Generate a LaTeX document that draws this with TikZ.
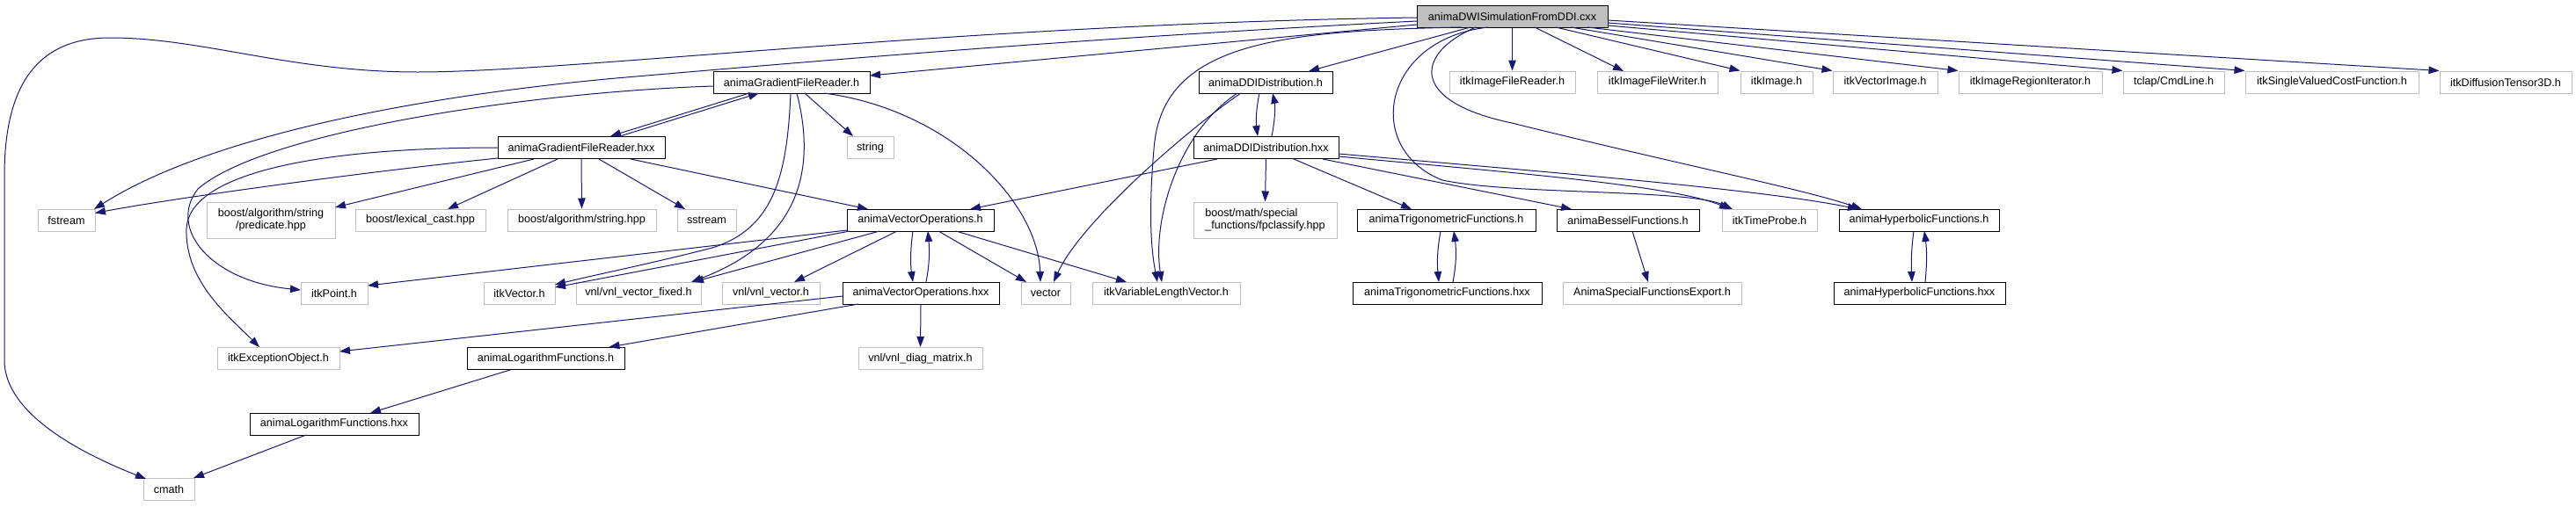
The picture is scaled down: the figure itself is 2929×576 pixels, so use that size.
\documentclass[tikz,border=0pt]{standalone}
\usepackage{fontspec}
\newfontfamily\dxfont{Liberation Sans}
\usetikzlibrary{arrows.meta,calc}
\definecolor{mblue}{HTML}{191970}
\definecolor{greyb}{HTML}{BFBFBF}
\begin{document}
\begin{tikzpicture}[x=1pt,y=-1pt,
  doc/.style={draw=black,line width=1pt,minimum height=25pt,inner sep=0pt,font=\dxfont\fontsize{12.6}{14}\selectfont},
  ext/.style={doc,draw=greyb},
  dep/.style={draw=mblue,line width=1pt,-{Triangle[length=12pt,width=8.5pt]}}]
\fill[white] (0,0) rectangle (2929,576);
\useasboundingbox (0,0) rectangle (2929,576);
% row 0
\node[doc,fill=greyb,minimum width=217pt] (cxx) at (1719.5,18.5) {animaDWISimulationFromDDI.cxx};
% row 1
\node[doc,minimum width=178pt] (gfrh) at (900,93.5) {animaGradientFileReader.h};
\node[doc,minimum width=152pt] (ddih) at (1439,93.5) {animaDDIDistribution.h};
\node[ext,minimum width=143pt] (ifr) at (1719.5,93.5) {itkImageFileReader.h};
\node[ext,minimum width=137pt] (ifw) at (1884.5,93.5) {itkImageFileWriter.h};
\node[ext,minimum width=82pt] (img) at (2020,93.5) {itkImage.h};
\node[ext,minimum width=119pt] (vimg) at (2143.5,93.5) {itkVectorImage.h};
\node[ext,minimum width=163pt] (rit) at (2308.5,93.5) {itkImageRegionIterator.h};
\node[ext,minimum width=115pt] (tclap) at (2471.5,93.5) {tclap/CmdLine.h};
\node[ext,minimum width=197pt] (svcf) at (2651.5,93.5) {itkSingleValuedCostFunction.h};
\node[ext,minimum width=150pt] (dt3) at (2849,93.5) {itkDiffusionTensor3D.h};
% row 2
\node[doc,minimum width=190pt] (gfrhxx) at (661,168) {animaGradientFileReader.hxx};
\node[ext,minimum width=53pt] (string) at (989.5,168) {string};
\node[doc,minimum width=165pt] (ddihxx) at (1439.5,168) {animaDDIDistribution.hxx};
% row 3
\node[ext,minimum width=65pt] (fstream) at (75.5,250.5) {fstream};
\node[ext,minimum width=146pt,minimum height=41pt,align=center] (pred) at (308,250.5) {boost/algorithm/string\\/predicate.hpp};
\node[ext,minimum width=148pt] (lex) at (478,250.5) {boost/lexical\_cast.hpp};
\node[ext,minimum width=169pt] (algs) at (661.5,250.5) {boost/algorithm/string.hpp};
\node[ext,minimum width=67pt] (sstream) at (803.5,250.5) {sstream};
\node[doc,minimum width=167pt] (avoh) at (1046.5,250.5) {animaVectorOperations.h};
\node[ext,minimum width=163pt,minimum height=41pt,align=left] (fpc) at (1438.5,250.5) {boost/math/special\\\_functions/fpclassify.hpp};
\node[doc,minimum width=203pt] (trig) at (1644.5,250.5) {animaTrigonometricFunctions.h};
\node[doc,minimum width=162pt] (bessel) at (1851,250.5) {animaBesselFunctions.h};
\node[ext,minimum width=108pt] (tprobe) at (2012,250.5) {itkTimeProbe.h};
\node[doc,minimum width=182pt] (hyp) at (2182,250.5) {animaHyperbolicFunctions.h};
% row 4
\node[ext,minimum width=76pt] (point) at (380,333.5) {itkPoint.h};
\node[ext,minimum width=81pt] (vec) at (590.5,333.5) {itkVector.h};
\node[ext,minimum width=142pt] (vnlfix) at (726,333.5) {vnl/vnl\_vector\_fixed.h};
\node[ext,minimum width=111pt] (vnlvec) at (876.5,333.5) {vnl/vnl\_vector.h};
\node[doc,minimum width=178pt] (avohxx) at (1047,333.5) {animaVectorOperations.hxx};
\node[ext,minimum width=56pt] (vector) at (1189,333.5) {vector};
\node[ext,minimum width=168pt] (vlv) at (1326,333.5) {itkVariableLengthVector.h};
\node[doc,minimum width=215pt] (trighxx) at (1645.5,333.5) {animaTrigonometricFunctions.hxx};
\node[ext,minimum width=203pt] (export) at (1878.5,333.5) {AnimaSpecialFunctionsExport.h};
\node[doc,minimum width=195pt] (hyphxx) at (2182.5,333.5) {animaHyperbolicFunctions.hxx};
% row 5
\node[ext,minimum width=139pt] (exc) at (316.5,408) {itkExceptionObject.h};
\node[doc,minimum width=179pt] (logh) at (620.5,408) {animaLogarithmFunctions.h};
\node[ext,minimum width=141pt] (diag) at (1046.5,408) {vnl/vnl\_diag\_matrix.h};
% row 6, 7
\node[doc,minimum width=192pt] (logthxx) at (380,482.5) {animaLogarithmFunctions.hxx};
\node[ext,minimum width=58pt] (cmath) at (192,557) {cmath};

% ---- edges from cxx
\draw[dep] ($(cxx.center)+(-108.5,9.5)$) -- ($(gfrh.center)+(89,-7.5)$);
\draw[dep] ($(cxx.center)+(-108.5,5.5)$) .. controls (1200,45) and (900,72) .. (700,89) .. controls (450,112) and (230,160) .. ($(fstream.center)+(31.5,-12.5)$);
\draw[dep] ($(cxx.center)+(-108.5,1.5)$) .. controls (1100,27) and (650,82) .. (475,82) .. controls (330,82) and (230,43) .. (125,43) .. controls (40,43) and (5,100) .. (5,200) -- (5,410) .. controls (5,470) and (90,515) .. ($(cmath.center)+(-26,-12)$);
\draw[dep] ($(cxx.center)+(-47.5,12.5)$) -- ($(ddih.center)+(49,-12.5)$);
\draw[dep] ($(cxx.center)+(-57.5,12.5)$) .. controls (1450,35) and (1320,50) .. (1312,170) .. controls (1305,250) and (1310,290) .. ($(vlv.center)+(-10,-12.5)$);
\draw[dep] (cxx.south) -- (ifr.north);
\draw[dep] ($(cxx.center)+(25.5,12.5)$) -- ($(ifw.center)+(-38.5,-12.5)$);
\draw[dep] ($(cxx.center)+(49.5,12.5)$) -- (img.north west);
\draw[dep] ($(cxx.center)+(66.5,12.5)$) -- (vimg.north west);
\draw[dep] ($(cxx.center)+(85.5,12.5)$) -- (rit.north west);
\draw[dep] ($(cxx.center)+(108.5,10.5)$) -- (tclap.north west);
\draw[dep] ($(cxx.center)+(108.5,7.5)$) -- (svcf.north west);
\draw[dep] ($(cxx.center)+(108.5,4.5)$) -- (dt3.north west);
\draw[dep] ($(cxx.center)+(-27.5,12.5)$) .. controls (1570,45) and (1550,170) .. (1640,205) .. controls (1720,222) and (1920,215) .. ($(tprobe.center)+(-42,-12.5)$);
\draw[dep] ($(cxx.center)+(-41.5,12.5)$) .. controls (1610,60) and (1600,115) .. (1719,140) .. controls (1900,185) and (2050,215) .. ($(hyp.center)+(-65,-12.5)$);
% ---- from gfrh
\draw[dep] ($(gfrh.center)+(-48,12.5)$) -- ($(gfrhxx.center)+(33,-13)$);
\draw[dep] ($(gfrhxx.center)+(44,-13)$) -- ($(gfrh.center)+(-37,12.5)$);
\draw[dep] ($(gfrh.center)+(15,12.5)$) -- ($(string.center)+(-19.5,-13)$);
\draw[dep] ($(gfrh.center)+(37,12.5)$) .. controls (1080,125) and (1180,230) .. ($(vector.center)+(-6,-12.5)$);
\draw[dep] ($(gfrh.center)+(-1,12.5)$) .. controls (895,200) and (880,260) .. (810,282) .. controls (740,300) and (680,312) .. ($(vec.center)+(40.5,-9.5)$);
\draw[dep] ($(gfrh.center)+(6,12.5)$) .. controls (925,180) and (920,270) .. ($(vnlfix.center)+(60,-12.5)$);
\draw[dep] ($(gfrh.center)+(-89,4.5)$) .. controls (600,105) and (300,150) .. (225,215) .. controls (190,260) and (240,320) .. ($(point.center)+(-38,-3.5)$);
% ---- from gfrhxx
\draw[dep] ($(gfrhxx.center)+(-95,0)$) .. controls (350,168) and (215,200) .. (212,260) .. controls (210,320) and (260,360) .. ($(exc.center)+(-21.5,-13)$);
\draw[dep] ($(gfrhxx.center)+(-95,12)$) .. controls (420,195) and (200,225) .. ($(fstream.center)+(32.5,-8)$);
\draw[dep] ($(gfrhxx.center)+(-54,13)$) -- ($(pred.center)+(73,-14.5)$);
\draw[dep] ($(gfrhxx.center)+(-27,13)$) -- ($(lex.center)+(31,-12.5)$);
\draw[dep] (gfrhxx.south) -- (algs.north);
\draw[dep] ($(gfrhxx.center)+(20,13)$) -- ($(sstream.center)+(-24.5,-12.5)$);
\draw[dep] ($(gfrhxx.center)+(56,13)$) -- ($(avoh.center)+(-59.5,-12.5)$);
% ---- from avoh
\draw[dep] ($(avoh.center)+(-83.5,11.5)$) -- ($(point.center)+(38,-8.5)$);
\draw[dep] ($(avoh.center)+(-80.5,12.5)$) -- ($(vec.center)+(40.5,-6.5)$);
\draw[dep] ($(avoh.center)+(-46.5,12.5)$) -- ($(vnlfix.center)+(62,-12.5)$);
\draw[dep] ($(avoh.center)+(-26.5,12.5)$) -- ($(vnlvec.center)+(26.5,-12.5)$);
\draw[dep] ($(avoh.center)+(-8.5,12.5)$) .. controls (1035,285) and (1035,300) .. ($(avohxx.center)+(-9,-12.5)$);
\draw[dep] ($(avohxx.center)+(6,-12.5)$) .. controls (1057,300) and (1057,285) .. ($(avoh.center)+(8.5,12.5)$);
\draw[dep] ($(avoh.center)+(20.5,12.5)$) -- ($(vector.center)+(-22,-12.5)$);
\draw[dep] ($(avoh.center)+(40.5,12.5)$) -- ($(vlv.center)+(-45,-12.5)$);
% ---- from avohxx
\draw[dep] ($(avohxx.center)+(-89,3.5)$) -- ($(exc.center)+(69.5,-8)$);
\draw[dep] ($(avohxx.center)+(-71,12.5)$) -- ($(logh.center)+(72,-13)$);
\draw[dep] (avohxx.south) -- (diag.north);
\draw[dep] ($(logh.center)+(-40.5,13)$) -- ($(logthxx.center)+(41,-12.5)$);
\draw[dep] ($(logthxx.center)+(-32,12.5)$) -- ($(cmath.center)+(28,-13)$);
% ---- from ddih
\draw[dep] ($(ddih.center)+(-7,12.5)$) .. controls (1428,125) and (1428,140) .. ($(ddihxx.center)+(-9.5,-13)$);
\draw[dep] ($(ddihxx.center)+(6.5,-13)$) .. controls (1450,135) and (1450,120) .. ($(ddih.center)+(8,12.5)$);
\draw[dep] ($(ddih.center)+(-28,12.5)$) .. controls (1360,140) and (1230,250) .. ($(vector.center)+(9,-12.5)$);
\draw[dep] ($(ddih.center)+(-32,12.5)$) .. controls (1340,150) and (1310,250) .. ($(vlv.center)+(-5,-12.5)$);
% ---- from ddihxx
\draw[dep] ($(ddihxx.center)+(-55.5,13)$) -- ($(avoh.center)+(56.5,-12.5)$);
\draw[dep] (ddihxx.south) -- (fpc.north);
\draw[dep] ($(ddihxx.center)+(31.5,13)$) -- ($(trig.center)+(-39.5,-12.5)$);
\draw[dep] ($(ddihxx.center)+(64.5,13)$) -- ($(bessel.center)+(-64,-12.5)$);
\draw[dep] ($(ddihxx.center)+(82.5,10)$) .. controls (1700,195) and (1900,210) .. ($(tprobe.center)+(-45,-12.5)$);
\draw[dep] ($(ddihxx.center)+(82.5,7)$) .. controls (1750,195) and (2000,215) .. ($(hyp.center)+(-69,-12.5)$);
% ---- trig, bessel, hyp
\draw[dep] ($(trig.center)+(-6.5,12.5)$) .. controls (1634,285) and (1634,300) .. ($(trighxx.center)+(-9.5,-12.5)$);
\draw[dep] ($(trighxx.center)+(6.5,-12.5)$) .. controls (1656,300) and (1656,285) .. ($(trig.center)+(8.5,12.5)$);
\draw[dep] ($(bessel.center)+(5,12.5)$) -- ($(export.center)+(-4.5,-12.5)$);
\draw[dep] ($(hyp.center)+(-6,12.5)$) .. controls (2173,285) and (2173,300) .. ($(hyphxx.center)+(-8.5,-12.5)$);
\draw[dep] ($(hyphxx.center)+(6.5,-12.5)$) .. controls (2191,300) and (2191,285) .. ($(hyp.center)+(6,12.5)$);
\end{tikzpicture}
\end{document}
